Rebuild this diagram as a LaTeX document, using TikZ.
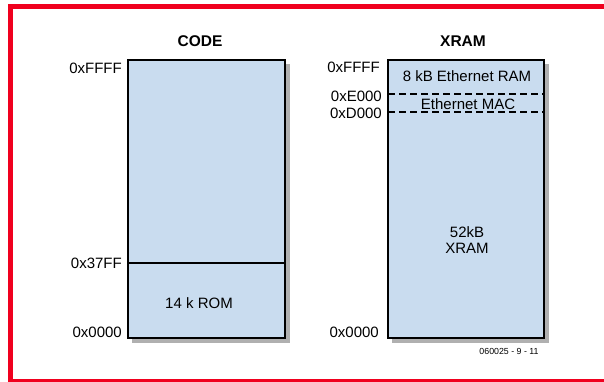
\documentclass[tikz,border=0pt]{standalone}
\usepackage{fontspec}
\setmainfont{Liberation Sans}
\definecolor{memfill}{HTML}{C9DCEF}
\definecolor{framered}{HTML}{F0001E}
\definecolor{shadowgray}{HTML}{B0B0B0}
\begin{document}
\begin{tikzpicture}[x=1pt,y=-1pt,
  membox/.style={draw=black,line width=1.6pt,fill=memfill},
  shadowbox/.style={fill=shadowgray,draw=none},
  addr/.style={anchor=east,inner sep=0pt,font=\fontsize{15}{17}\selectfont},
  lbl/.style={inner sep=0pt,font=\fontsize{15}{17}\selectfont,align=center},
  title/.style={inner sep=0pt,font=\fontsize{15.5}{17}\selectfont\bfseries},
  divline/.style={line width=1.1pt},
  dashline/.style={line width=1.1pt,dash pattern=on 7pt off 4pt}]
\useasboundingbox (0,0) rectangle (604,382);
\begin{scope}
\clip (0,0) rectangle (604,382);
\draw[framered,line width=5pt] (10.5,6.5) rectangle (620,381);
\end{scope}
% CODE
\fill[shadowbox] (132,64) rectangle (290,342.5);
\draw[membox] (128,60) rectangle (285,338);
\coordinate (c37l) at (128,263);
\coordinate (c37r) at (285,263);
\draw[divline] (c37l) -- (c37r);
\node[title] (codet) at (200,41) {CODE};
\node[addr] (cffff) at (122,68) {0xFFFF};
\node[addr] (c37ff) at (122,263) {0x37FF};
\node[addr] (c0000) at (122,332) {0x0000};
\node[lbl] (rom) at (199,303) {14 k ROM};
% XRAM
\fill[shadowbox] (392,64) rectangle (549,342.5);
\draw[membox] (388,60) rectangle (544,338);
\coordinate (e0l) at (388,94);
\coordinate (e0r) at (543,94);
\coordinate (d0l) at (388,112);
\coordinate (d0r) at (543,112);
\draw[dashline] (e0l) -- (e0r);
\draw[dashline] (d0l) -- (d0r);
\node[title] (xramt) at (463,41) {XRAM};
\node[addr] (xffff) at (380,67) {0xFFFF};
\node[addr] (xe000) at (382,96) {0xE000};
\node[addr] (xd000) at (382,113) {0xD000};
\node[addr] (x0000) at (379,332) {0x0000};
\node[lbl] (ethram) at (467,76) {8 kB Ethernet RAM};
\node[lbl] (ethmac) at (468,104) {Ethernet MAC};
\node[lbl] (xram) at (467,240) {52kB\\[-1pt]XRAM};
\node[inner sep=0pt,font=\fontsize{8.8}{10}\selectfont] (ref) at (509,351) {060025 - 9 - 11};
\end{tikzpicture}
\end{document}
